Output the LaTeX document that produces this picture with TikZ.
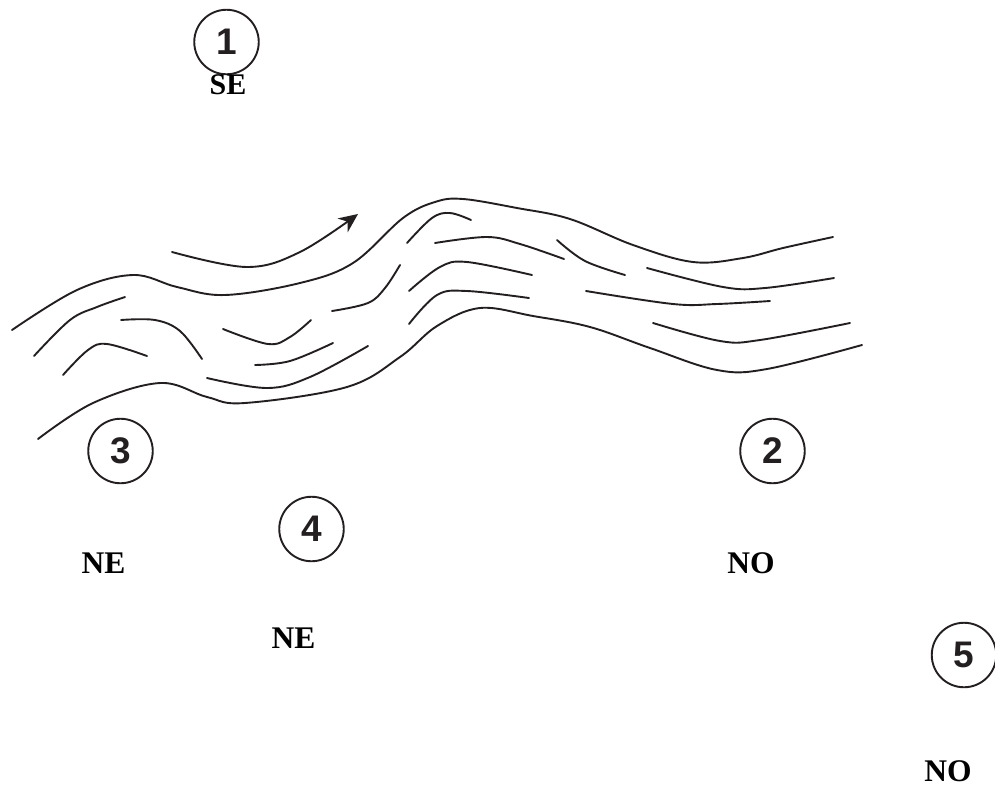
\documentclass[tikz,border=0pt]{standalone}
\usepackage{fontspec}
\setmainfont{Liberation Serif}
\newfontfamily\numfont{Liberation Sans}
\usetikzlibrary{arrows.meta}
\definecolor{ink}{HTML}{231F20}
\tikzset{
  stream/.style={draw=ink,line width=1.9pt,line cap=round,line join=round},
  numcircle/.style={circle,draw=ink,line width=1.9pt,minimum size=64.5pt,inner sep=0pt,text=ink,font=\numfont\bfseries\fontsize{37}{37}\selectfont},
  wind/.style={inner sep=0pt,text=black,font=\bfseries\fontsize{31.5}{31.5}\selectfont}
}
\begin{document}
\begin{tikzpicture}[x=1pt,y=-1pt]
\useasboundingbox (0,0) rectangle (995,785);
\path[clip] (0,0) rectangle (995,785);
% banks
\draw[stream] plot[smooth,tension=0.6] coordinates {(12,330)(77,290)(133,275)(177,287)(225,295)(300,283)(353,263)(403,218)(435,202)(463,199)(517,208)(570,219)(633,245)(693,262)(743,258)(783,248)(833,237)};
\draw[stream] plot[smooth,tension=0.6] coordinates {(38,439)(93,403)(160,383)(207,397)(245,403)(347,387)(400,357)(437,326)(480,308)(533,316)(590,327)(650,348)(717,370)(767,369)(862,345)};
% flow arrow
\draw[stream,-{Stealth[length=19pt,width=17pt,inset=6pt]}] plot[smooth,tension=0.6] coordinates {(172,252)(247,267)(300,252)(358,214)};
% inner strokes
\draw[stream] plot[smooth,tension=0.6] coordinates {(34,356)(70,320)(97,307)(125,297)};
\draw[stream] plot[smooth,tension=0.6] coordinates {(63,375)(88,350)(107,344)(147,356)};
\draw[stream] plot[smooth,tension=0.6] coordinates {(121,320)(155,320)(180,331)(202,359)};
\draw[stream] plot[smooth,tension=0.6] coordinates {(223,329)(268,344)(290,337)(311,320)};
\draw[stream] plot[smooth,tension=0.6] coordinates {(255,365)(290,361)(333,343)};
\draw[stream] plot[smooth,tension=0.6] coordinates {(207,378)(267,388)(310,377)(368,346)};
\draw[stream] plot[smooth,tension=0.6] coordinates {(332,311)(368,303)(385,288)(400,265)};
\draw[stream] plot[smooth,tension=0.6] coordinates {(407,243)(432,218)(450,213)(471,220)};
\draw[stream] plot[smooth,tension=0.6] coordinates {(435,243)(487,237)(520,244)(564,259)};
\draw[stream] plot[smooth,tension=0.6] coordinates {(409,291)(440,267)(467,262)(532,275)};
\draw[stream] plot[smooth,tension=0.6] coordinates {(409,324)(437,295)(467,291)(529,298)};
\draw[stream] plot[smooth,tension=0.6] coordinates {(557,240)(585,261)(625,275)};
\draw[stream] plot[smooth,tension=0.6] coordinates {(647,268)(723,287)(765,288)(834,278)};
\draw[stream] plot[smooth,tension=0.6] coordinates {(586,291)(673,304)(717,304)(770,301)};
\draw[stream] plot[smooth,tension=0.6] coordinates {(653,323)(720,341)(760,340)(850,323)};
% numbered circles
\node[numcircle] (n1) at (226.5,42) {1};
\node[numcircle] (n2) at (772.5,451) {2};
\node[numcircle] (n3) at (120.5,451) {3};
\node[numcircle] (n4) at (311.5,529) {4};
\node[numcircle] (n5) at (964,655) {5};
% labels
\node[wind,font=\bfseries\fontsize{30}{30}\selectfont] (l1) at (228,85) {SE};
\node[wind] (l3) at (103.5,563) {NE};
\node[wind] (l2) at (751,563) {NO};
\node[wind] (l4) at (293.5,638) {NE};
\node[wind] (l5) at (948,771) {NO};
\end{tikzpicture}
\end{document}
